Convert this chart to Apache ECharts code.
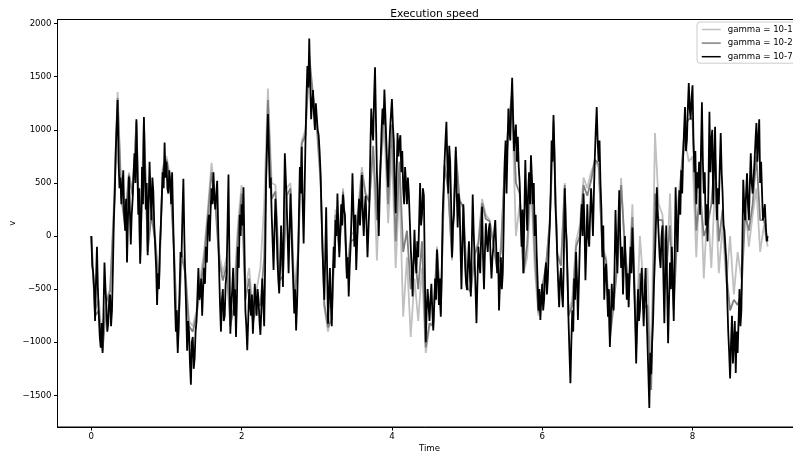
<!DOCTYPE html>
<html>
<head>
<meta charset="utf-8">
<script src="https://cdn.jsdelivr.net/npm/echarts@6/dist/echarts.min.js"></script>
<style>
html, body { margin: 0; padding: 0; background: #fff; }
#chart { width: 793px; height: 457px; }
</style>
</head>
<body>
<div id="chart"></div>
<script>
// Sampling grids (time units)
const dtFine = 0.0125;  // gamma = 10-7 trace
const dtCoarse = 0.05;  // gamma = 10-1 and 10-2 traces

const seriesNames = ['gamma = 10-1', 'gamma = 10-2', 'gamma = 10-7'];
const xTicks = [0, 2, 4, 6, 8];
const yTicks = [-1500, -1000, -500, 0, 500, 1000, 1500, 2000];

// Execution speed, gamma = 10-1
const speedG1 = [
  0, -700, -600, -1050, -600, -500, 300, 1355, 400, 150,
  600, 400, 1050, -200, 1050, -100, 250, 0, -450, 650,
  750, 550, -100, -1000, -150, -300, -800, -850, -700, -400,
  -150, 250, 690, 350, -150, -350, -200, -750, -550, 100,
  480, -500, -300, -700, -500, -300, 300, 1390, 500, 480,
  -300, -250, 450, 500, -500, -150, 900, 1000, 1550, 1300,
  1000, 500, -670, -900, -700, 250, -100, 450, -300, 0,
  50, 250, 650, 400, 350, 800, -230, 700, 1000, 120,
  800, -300, 500, -760, -200, -950, -400, -800, -300, -1100,
  -850, -800, -100, -700, 650, 450, -230, 750, 350, 250,
  -450, -500, -150, -50, 350, 200, 150, -50, -300, -100,
  600, 900, 1200, 0, 300, -350, -200, 500, -300, -750,
  -500, -300, 150, 1000, -150, -250, 500, -700, -600, -50,
  100, 550, 450, 600, 700, 650, -100, -200, -900, -600,
  -200, 545, -200, -400, 300, -900, 0, -500, -300, -1300,
  970, 300, 200, -500, 400, -600, 300, 600, 900, 700,
  750, -200, 600, -400, 300, -300, 500, -350, 100, -450,
  0, -550, -150, -400, 300, -100, 200, 450, -150, 100,
  -100
];

// Execution speed, gamma = 10-2
const speedG2 = [
  0, -750, -700, -1080, -620, -520, 200, 1300, 350, 100,
  580, 380, 1080, -230, 1100, -150, 200, -50, -480, 620,
  720, 520, -150, -1050, -180, -350, -850, -900, -750, -480,
  -220, 180, 600, 300, -220, -420, -280, -850, -650, 0,
  400, -600, -400, -820, -650, -650, -200, 1280, 350, 420,
  -420, -380, 380, 450, -620, -220, 870, 950, 1700, 1330,
  1060, 550, -640, -860, -780, 200, -150, 420, -350, -50,
  -30, 200, 600, 390, 320, 850, 150, 700, 1200, 300,
  1050, -50, 700, -150, 50, -500, -150, -500, -50, -1050,
  -820, -850, -120, -730, 670, 420, -210, 800, 330, 280,
  -480, -530, -180, -80, 310, 160, 140, -80, -320, -150,
  650, 1050, 1350, 500, 400, -350, -80, 620, -150, -720,
  -480, -280, 120, 1080, -180, -280, 480, -750, -650, -100,
  0, 480, 380, 520, 720, 680, -150, -230, -970, -650,
  -280, 480, -100, -530, 180, -1050, -350, -680, -650, -1450,
  400, 150, 150, -300, 100, -700, 80, 610, 1050, 1100,
  1100, 50, 400, 0, 100, 300, 750, -50, 250, -350,
  -700, -600, -650, -550, 200, 50, 300, 750, 150, 150,
  -50
];

// Execution speed, gamma = 10-7 (one row per 0.25 time units)
const speedG7 = [
  0, -280, -350, -500, -800, -420, -100, -500, -750, -950, -1050, -820, -1100, -700, -250, -480, -650, -900, -820, -600,
  -550, -850, -700, -300, 150, 400, 800, 1050, 1280, 700, 450, 550, 300, 450, 620, 200, 50, 350, -250, 150,
  560, 250, -80, 200, 350, 600, 780, 500, 1100, 650, 200, 450, -260, 100, 650, 300, 1120, 600, 250, 500,
  -180, 300, 700, 400, 150, 550, 420, 100, -100, -300, -650, -350, -500, -100, 100, 350, 600, 450, 880, 550,
  700, 450, 400, 620, 500, 300, 600, 200, -200, -600, -900, -700, -1100, -850, -500, -150, -200, 200, 540, 0,
  -400, -700, -1080, -800, -900, -1200, -1400, -1000, -950, -1250, -1150, -900, -800, -550, -300, -600, -550, -400, -750, -500,
  -300, -450, -100, -250, 100, 200, -50, 250, 450, 300, 600, 350, 250, 400, 520, 100, -300, -650, -900, -600,
  -500, -800, -750, -450, -350, 100, 580, -200, -920, -650, -500, -300, -750, -500, -950, -600, -100, -300, 200, 0,
  300, 100, 460, -100, -700, -850, -1075, -800, -500, -650, -750, -550, -920, -700, -450, -600, -750, -500, -600, -800,
  -930, -700, -400, -600, -850, -300, 500, 850, 1150, 800, 450, 550, 200, -50, -320, 50, 350, 150, -200, -400,
  -540, -300, 100, -150, -480, 200, 780, 550, 300, 0, -350, 50, 400, 100, -200, -450, -730, -500, -890, -650,
  -300, 200, 650, 400, 840, 300, -70, 400, 900, 1300, 1600, 1400, 1860, 1450, 1100, 1250, 1375, 1150, 1000, 1250,
  1120, 1000, 950, 800, 600, 250, -100, -350, -600, -200, 270, -300, -825, -550, -300, -650, -850, -400, -100, -300,
  150, 0, 400, 100, -200, 50, 300, 100, 390, 250, 200, -100, -400, -200, -570, -300, -100, 200, 590, 250,
  -100, 200, -320, -50, 150, 350, 100, 300, 575, 200, 0, 250, 380, 100, -200, 50, 300, 800, 1200, 1000,
  900, 1300, 1590, 1100, 600, 300, 0, 400, 700, 1000, 1200, 1050, 1380, 1150, 900, 650, 460, 800, 1000, 1150,
  1290, 1050, 900, 500, 215, 600, 970, 750, 880, 950, 600, 800, 450, 300, 650, 500, 300, 550, 400, 150,
  -100, -300, -570, -250, 60, -200, -350, -50, -200, 150, 500, 100, 200, 450, 380, -300, -1000, -700, -500, -650,
  -800, -600, -450, -700, -890, -650, -400, -600, -130, -350, -650, -400, -760, -350, 200, 450, 690, 900, 1075, 700,
  400, 850, 700, 300, -200, 100, 200, 500, 840, 400, 80, 400, 310, -100, -500, -100, 300, 0, -300, -450,
  -510, -250, -50, -350, -570, -100, 390, 50, -200, -500, -820, -450, -100, -250, -350, 0, 275, -200, -500, -150,
  120, -50, -150, 50, 120, -200, -400, -200, -100, 50, 150, -100, -350, -150, -700, -450, -200, -500, -350, 100,
  690, 900, 400, 800, 1200, 1000, 900, 1250, 1490, 1100, 800, 950, 1050, 700, 935, 650, 500, 200, -100, 250,
  -350, 200, 715, 350, 50, 400, 600, 300, 760, 550, 300, 500, 0, 200, -150, -400, -700, -500, -790, -600,
  -450, -700, -600, -350, -250, -550, -400, -100, 85, 400, 900, 700, 1140, 800, 300, 100, -200, -450, -670, -400,
  -300, -550, -670, -200, 450, 100, -50, -400, -800, -1100, -1385, -1000, -700, -900, -400, -600, -150, -400, -790, -450,
  -100, 100, 300, 0, 400, 100, -415, -100, 300, 0, -100, 200, 450, 250, 0, 400, 745, 1000, 1215, 900,
  700, 900, 500, 250, -200, 100, -600, -350, -260, -500, -760, -500, -1045, -800, -450, -650, -700, -300, 245, -100,
  -350, 100, 430, 0, -300, -100, -550, -250, 0, -300, -600, -350, -670, -400, -100, -350, 80, -200, -500, -800,
  -1200, -850, -500, -800, -700, -450, -300, -600, -850, -550, -300, -700, -1000, -1300, -1620, -1100, -1300, -1000, -800, -450,
  -200, 100, 460, 200, 0, -200, -300, 0, 100, -400, -820, -300, 100, -500, -1010, -600, -250, -500, -100, -450,
  -800, -200, 460, 100, -150, 200, 430, 200, 620, 400, 745, 1000, 1215, 800, 900, 1200, 1440, 1200, 1100, 1300,
  1420, 900, 600, 800, 300, 600, 450, 700, 200, 800, 1260, 700, 400, 600, 100, 300, -50, 500, 1170, 600,
  900, 1000, 300, 700, 1030, 500, 150, 450, 300, 650, 970, 600, 400, 100, 50, -100, -250, -600, -900, -1100,
  -1340, -1000, -750, -1200, -1000, -800, -1290, -900, -1100, -800, -500, -850, -700, -100, 530, 300, 150, 400, 590, 300,
  150, 500, 780, 500, 400, 550, 700, 900, 1065, 700, 900, 1100, 500, 700, 400, 150, 200, 300, 100, -50,
  0
];

function toPairs(values, dt) {
  return values.map((v, i) => [+(i * dt).toFixed(4), v]);
}

const FONT = 'DejaVu Sans';
const minusSign = v => String(v).replace('-', '\u2212');

const chart = echarts.init(document.getElementById('chart'), null, { renderer: 'canvas' });

const lineSeries = (name, data, color, width, z) => ({
  name: name,
  type: 'line',
  data: data,
  symbol: 'none',
  showSymbol: false,
  smooth: false,
  z: z,
  lineStyle: { color: color, width: width },
  itemStyle: { color: color },
  emphasis: { disabled: true },
  animation: false
});

chart.setOption({
  animation: false,
  backgroundColor: '#ffffff',
  title: {
    text: 'Execution speed',
    left: 429.5,
    top: 4,
    textAlign: 'center',
    textStyle: { fontFamily: FONT, fontSize: 10.75, fontWeight: 'normal', color: '#000' }
  },
  legend: {
    data: seriesNames,
    orient: 'vertical',
    left: 697,
    top: 22,
    itemWidth: 19,
    itemHeight: 9,
    itemGap: 4.6,
    padding: [3, 6, 2, 4],
    backgroundColor: 'rgba(255,255,255,0.8)',
    borderColor: '#cccccc',
    borderWidth: 1,
    borderRadius: 3,
    itemStyle: { opacity: 0 },
    lineStyle: { width: 1.5 },
    textStyle: { fontFamily: FONT, fontSize: 8.6, color: '#000', padding: [0, 0, 0, 2] }
  },
  grid: {
    left: 57.5,
    top: 19.5,
    width: 744,
    height: 407.5,
    show: true,
    borderColor: '#000',
    borderWidth: 1,
    backgroundColor: 'transparent',
    containLabel: false,
    outerBoundsMode: 'none'
  },
  xAxis: {
    type: 'value',
    min: -0.45,
    max: 9.45,
    name: 'Time',
    nameLocation: 'middle',
    nameGap: 17,
    nameMoveOverlap: false,
    nameTextStyle: { fontFamily: FONT, fontSize: 8.6, color: '#000' },
    axisLine: { show: true, onZero: false, lineStyle: { color: '#000', width: 1 } },
    axisTick: { show: true, length: 3.5, lineStyle: { color: '#000' }, customValues: xTicks },
    axisLabel: { fontFamily: FONT, fontSize: 8.6, color: '#000', margin: 5, customValues: xTicks },
    splitLine: { show: false }
  },
  yAxis: {
    type: 'value',
    min: -1798,
    max: 2039,
    name: 'v',
    nameLocation: 'middle',
    nameGap: 40,
    nameMoveOverlap: false,
    nameTextStyle: { fontFamily: FONT, fontSize: 8.6, color: '#000' },
    axisLine: { show: true, onZero: false, lineStyle: { color: '#000', width: 1 } },
    axisTick: { show: true, length: 3.5, lineStyle: { color: '#000' }, customValues: yTicks },
    axisLabel: {
      fontFamily: FONT, fontSize: 8.6, color: '#000', margin: 6,
      customValues: yTicks,
      formatter: v => minusSign(v)
    },
    splitLine: { show: false }
  },
  series: [
    lineSeries(seriesNames[0], toPairs(speedG1, dtCoarse), '#c0c0c0', 1.8, 2),
    lineSeries(seriesNames[1], toPairs(speedG2, dtCoarse), '#808080', 1.8, 3),
    lineSeries(seriesNames[2], toPairs(speedG7, dtFine), '#000000', 1.8, 4)
  ]
});
</script>
</body>
</html>
